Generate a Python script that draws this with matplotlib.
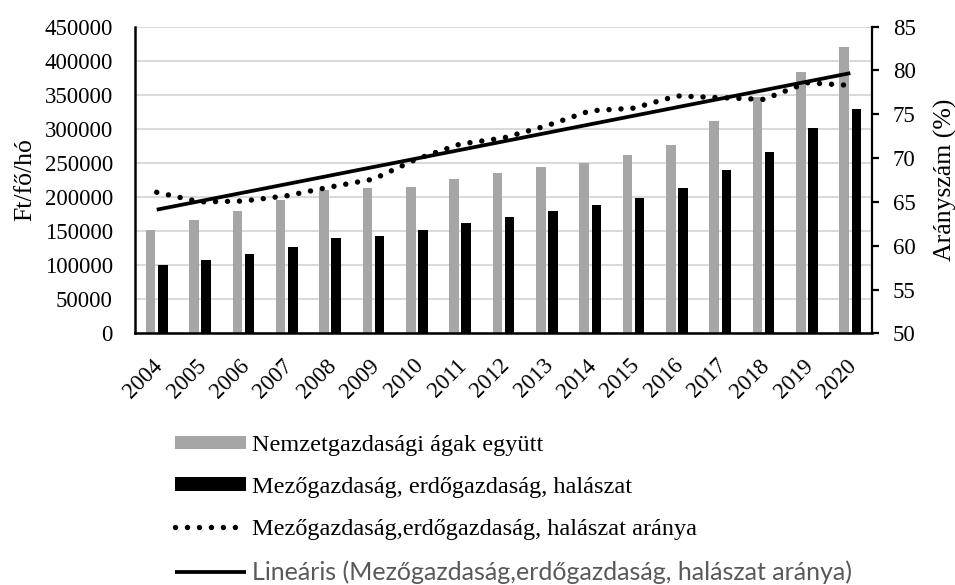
import numpy as np
import matplotlib
matplotlib.use("Agg")
from matplotlib import pyplot as plt
from matplotlib.transforms import ScaledTranslation

# Values
years = [str(y) for y in range(2004, 2021)]
nemzetgazdasag = [152000, 166000, 180000, 195000, 210000, 213000, 215000, 227000, 235000,
                  244000, 250000, 261000, 277000, 312000, 347000, 384000, 420000]
mezogazdasag = [100000, 107000, 116000, 127000, 140000, 143000, 151000, 162000, 170000,
                179000, 188000, 198000, 213000, 240000, 266000, 301000, 329000]
arany = [66.1, 65.0, 65.1, 65.7, 66.7, 67.6, 69.9, 71.6, 72.3,
         73.7, 75.4, 75.7, 77.1, 76.9, 76.7, 78.6, 78.3]

plt.rcParams['font.family'] = ['Liberation Serif', 'DejaVu Serif']

fig = plt.figure(figsize=(9.55, 5.85), dpi=100)
ax = fig.add_axes([0.1414, 0.4302, 0.7717, 0.5242])
ax2 = ax.twinx()

x = np.arange(len(years))
w = 0.22
ax.bar(x - 0.14, nemzetgazdasag, w, color="#a6a6a6", label="Nemzetgazdasági ágak együtt", zorder=2)
ax.bar(x + 0.14, mezogazdasag, w, color="black", label="Mezőgazdaság, erdőgazdaság, halászat", zorder=2)

# ratio (dotted) and its linear trend
ax2.plot(x, arany, color="black", lw=3.9, linestyle=(0, (0.01, 2.2)), dash_capstyle="round",
         label="Mezőgazdaság,erdőgazdaság, halászat aránya")
coef = np.polyfit(x, arany, 1)
ax2.plot(x, np.polyval(coef, x), color="black", lw=2.7, solid_capstyle="butt",
         label="Lineáris (Mezőgazdaság,erdőgazdaság, halászat aránya)")

ax.set_xlim(-0.5, len(years) - 0.5)
ax.set_ylim(0, 450000)
ax.set_yticks(np.arange(0, 450001, 50000))
ax2.set_ylim(50, 85)
ax2.set_yticks(np.arange(50, 86, 5))

ax.set_axisbelow(True)
ax.yaxis.grid(True, color="#d9d9d9", lw=1.4)
ax.set_xticks(x)
ax.set_xticklabels(years, rotation=45, ha="right", va="center", rotation_mode="anchor")
ax.tick_params(axis="x", length=0, pad=21, labelsize=16.5)
ax.tick_params(axis="y", length=0, pad=16, labelsize=16.5)
ax2.tick_params(axis="y", length=5, width=1.6, pad=10, labelsize=16.5)

# nudge the rotated year labels a little to the right
shift = ScaledTranslation(3 / 100, 0, fig.dpi_scale_trans)
for lab in ax.get_xticklabels():
    lab.set_transform(lab.get_transform() + shift)

for s in ["top", "right"]:
    ax.spines[s].set_visible(False)
for s in ["top", "left", "bottom"]:
    ax2.spines[s].set_visible(False)
ax.spines["left"].set_linewidth(1.8)
ax.spines["bottom"].set_linewidth(1.8)
ax2.spines["right"].set_linewidth(1.6)

ax.set_ylabel("Ft/fő/hó", fontsize=18.5, labelpad=6)
ax2.set_ylabel("Arányszám (%)", fontsize=18.5, labelpad=13)

h1, l1 = ax.get_legend_handles_labels()
h2, l2 = ax2.get_legend_handles_labels()
leg = fig.legend(h1 + h2, l1 + l2, loc="upper left", bbox_to_anchor=(0.1835, 0.256),
                 frameon=False, fontsize=17.5, handlelength=2.9, handleheight=0.48,
                 handletextpad=0.25, labelspacing=0.85, borderpad=0, borderaxespad=0)
last = leg.get_texts()[3]
last.set_color("#595959")
last.set_fontfamily("Lato")
last.set_fontsize(18.0)

fig.savefig("out.png", dpi=100)
